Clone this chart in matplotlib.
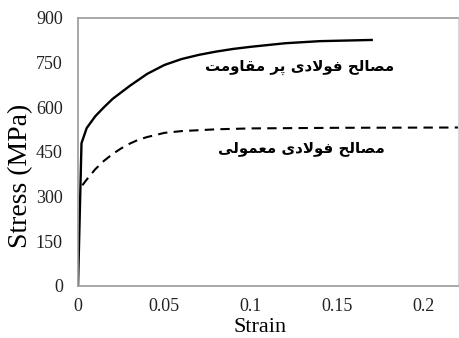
import matplotlib
matplotlib.use('Agg')
import matplotlib.pyplot as plt

# Stress-strain data
strain_high = [0, 0.002, 0.005, 0.01, 0.015, 0.02, 0.03, 0.04, 0.05, 0.06,
               0.07, 0.08, 0.09, 0.1, 0.12, 0.14, 0.17]
stress_high = [0, 479, 530, 570, 600, 628, 672, 712, 742, 762,
               776, 787, 796, 803, 815, 822, 826]

strain_normal = [0.0025, 0.005, 0.01, 0.015, 0.02, 0.025, 0.03, 0.035, 0.04,
                 0.05, 0.06, 0.08, 0.1, 0.15, 0.22]
stress_normal = [338, 357, 392, 420, 443, 462, 478, 491, 500,
                 514, 520, 526, 529, 531, 532]

label_high = 'مصالح فولادی پر مقاومت'
label_normal = 'مصالح فولادی معمولی'

x_ticks = [0, 0.05, 0.1, 0.15, 0.2]
x_tick_labels = ['0', '0.05', '0.1', '0.15', '0.2']
y_ticks = [0, 150, 300, 450, 600, 750, 900]

# matplotlib has no Arabic shaping, so pick presentation forms by hand
# (isolated, final, initial, medial); None = letter does not join to the next
FORMS = {
    'ا': ('\uFE8D', '\uFE8E', None, None),
    'ت': ('\uFE95', '\uFE96', '\uFE97', '\uFE98'),
    'ح': ('\uFEA1', '\uFEA2', '\uFEA3', '\uFEA4'),
    'د': ('\uFEA9', '\uFEAA', None, None),
    'ر': ('\uFEAD', '\uFEAE', None, None),
    'ص': ('\uFEB9', '\uFEBA', '\uFEBB', '\uFEBC'),
    'ع': ('\uFEC9', '\uFECA', '\uFECB', '\uFECC'),
    'ف': ('\uFED1', '\uFED2', '\uFED3', '\uFED4'),
    'ق': ('\uFED5', '\uFED6', '\uFED7', '\uFED8'),
    'ل': ('\uFEDD', '\uFEDE', '\uFEDF', '\uFEE0'),
    'م': ('\uFEE1', '\uFEE2', '\uFEE3', '\uFEE4'),
    'و': ('\uFEED', '\uFEEE', None, None),
    'پ': ('\uFB56', '\uFB57', '\uFB58', '\uFB59'),
    'ی': ('\uFBFC', '\uFBFD', '\uFBFE', '\uFBFF'),
    'لا': ('\uFEFB', '\uFEFC', None, None),
}


def shape(text):
    out = []
    for word in text.split(' '):
        tokens = []
        i = 0
        while i < len(word):
            if word[i:i + 2] == 'لا':
                tokens.append('لا')
                i += 2
            else:
                tokens.append(word[i])
                i += 1
        shaped = []
        for k, t in enumerate(tokens):
            f = FORMS[t]
            prev_joins = k > 0 and FORMS[tokens[k - 1]][2] is not None
            next_joins = k < len(tokens) - 1 and f[2] is not None
            if prev_joins and next_joins:
                shaped.append(f[3])
            elif prev_joins:
                shaped.append(f[1])
            elif next_joins:
                shaped.append(f[2])
            else:
                shaped.append(f[0])
        out.append(''.join(shaped))
    # visual order, left to right
    return ' '.join(out)[::-1]


plt.rcParams['font.family'] = ['Liberation Serif', 'DejaVu Sans']

fig = plt.figure(figsize=(4.59, 3.38), dpi=100)
ax = fig.add_axes([0.170, 0.154, 0.828, 0.793])

ax.plot(strain_high, stress_high, color='black', lw=1.7)
ax.plot(strain_normal, stress_normal, color='black', lw=1.5,
        linestyle=(0, (4.5, 3)))

ax.text(0.1285, 735, shape(label_high), family='DejaVu Sans',
        fontweight='bold', fontsize=10.8, ha='center', va='center')
ax.text(0.129, 463, shape(label_normal), family='DejaVu Sans',
        fontweight='bold', fontsize=10.8, ha='center', va='center')

ax.set_xlim(0, 0.22)
ax.set_ylim(0, 900)
ax.set_xticks(x_ticks)
ax.set_xticklabels(x_tick_labels)
ax.set_yticks(y_ticks)
ax.tick_params(length=0, labelsize=13, colors='#222222')
ax.tick_params(axis='y', pad=11)
ax.tick_params(axis='x', pad=9)

for side in ['left', 'bottom', 'top']:
    ax.spines[side].set_color('#9a9a9a')
    ax.spines[side].set_linewidth(1.2)
ax.spines['right'].set_color('#d9d9d9')
ax.spines['right'].set_linewidth(0.8)

ax.set_xlabel('Strain', fontsize=16)
ax.set_ylabel('Stress (MPa)', fontsize=20)
ax.xaxis.set_label_coords(0.48, -0.118)
ax.yaxis.set_label_coords(-0.118, 0.41)

fig.savefig('out.png', dpi=100)
